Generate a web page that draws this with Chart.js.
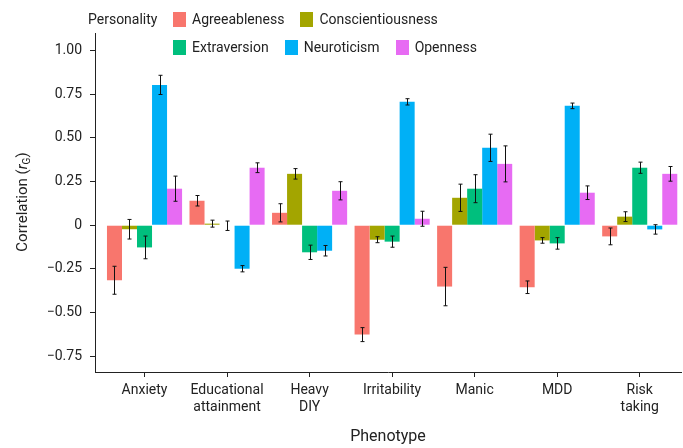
<!DOCTYPE html>
<html>
<head>
<meta charset="utf-8">
<script src="https://cdn.jsdelivr.net/npm/chart.js@4.4.1/dist/chart.umd.min.js"></script>
<style>
    body { margin: 0; background: #fff; font-family: Roboto, sans-serif; color: #222; }
    #wrap { position: relative; width: 683px; height: 448px; }
    #legendTitle { position: absolute; left: 88px; top: 10px; font-size: 14px; line-height: 18px; }
    .legendRow { position: absolute; left: 173px; display: flex; gap: 16px; }
    .legendItem { display: flex; align-items: center; font-size: 14px; line-height: 18px; }
    .legendBox { width: 13px; height: 15px; margin-right: 6px; }
</style>
</head>
<body>
<div id="wrap">
    <canvas id="chart" width="683" height="448"></canvas>
    <div id="legendTitle">Personality</div>
    <div class="legendRow" id="row1" style="top:10px"></div>
    <div class="legendRow" id="row2" style="top:38px"></div>
</div>
<script>
const phenotypes = ['Anxiety', 'Educational attainment', 'Heavy DIY', 'Irritability', 'Manic', 'MDD', 'Risk taking'];
const tickLabels = [['Anxiety'], ['Educational', 'attainment'], ['Heavy', 'DIY'], ['Irritability'], ['Manic'], ['MDD'], ['Risk', 'taking']];
const traits = ['Agreeableness', 'Conscientiousness', 'Extraversion', 'Neuroticism', 'Openness'];
const traitColors = ['#F8766D', '#A3A500', '#00BF7D', '#00B0F6', '#E76BF3'];

const agreeableness = [-0.315, 0.14, 0.071, -0.626, -0.351, -0.355, -0.064];
const agreeablenessErr = [0.08, 0.03, 0.052, 0.04, 0.11, 0.036, 0.048];
const conscientiousness = [-0.023, 0.009, 0.294, -0.083, 0.157, -0.087, 0.049];
const conscientiousnessErr = [0.056, 0.02, 0.03, 0.017, 0.078, 0.016, 0.028];
const extraversion = [-0.127, -0.003, -0.155, -0.094, 0.209, -0.104, 0.329];
const extraversionErr = [0.065, 0.027, 0.041, 0.032, 0.08, 0.033, 0.032];
const neuroticism = [0.803, -0.249, -0.146, 0.706, 0.443, 0.683, -0.024];
const neuroticismErr = [0.055, 0.018, 0.03, 0.018, 0.078, 0.016, 0.027];
const openness = [0.209, 0.329, 0.197, 0.037, 0.351, 0.186, 0.294];
const opennessErr = [0.072, 0.028, 0.052, 0.043, 0.103, 0.039, 0.042];

const yTicks = [-0.75, -0.5, -0.25, 0, 0.25, 0.5, 0.75, 1];

const seriesValues = [agreeableness, conscientiousness, extraversion, neuroticism, openness];
const seriesErrors = [agreeablenessErr, conscientiousnessErr, extraversionErr, neuroticismErr, opennessErr];

const datasets = traits.map((t, k) => ({
    label: t,
    data: seriesValues[k].map((v, i) => ({ x: i, y: v })),
    errors: seriesErrors[k],
    backgroundColor: traitColors[k],
    borderWidth: 0,
    categoryPercentage: 0.91,
    barPercentage: 1
}));

// legend laid out like the ggplot one: 2 items on top row, 3 below
const rows = [document.getElementById('row1'), document.getElementById('row2')];
traits.forEach((t, k) => {
    const item = document.createElement('div');
    item.className = 'legendItem';
    const box = document.createElement('span');
    box.className = 'legendBox';
    box.style.background = traitColors[k];
    item.appendChild(box);
    item.appendChild(document.createTextNode(t));
    rows[k < 2 ? 0 : 1].appendChild(item);
});

const errorBars = {
    id: 'errorBars',
    afterDatasetsDraw(chart) {
        const ctx = chart.ctx;
        const yScale = chart.scales.y;
        ctx.save();
        ctx.strokeStyle = '#111';
        ctx.lineWidth = 1;
        chart.data.datasets.forEach((ds, k) => {
            const meta = chart.getDatasetMeta(k);
            meta.data.forEach((bar, i) => {
                const v = ds.data[i].y;
                const e = ds.errors[i];
                const x = Math.round(bar.x) + 0.5;
                const y1 = yScale.getPixelForValue(v + e);
                const y2 = yScale.getPixelForValue(v - e);
                ctx.beginPath();
                ctx.moveTo(x, y1); ctx.lineTo(x, y2);
                ctx.moveTo(x - 2, y1); ctx.lineTo(x + 2, y1);
                ctx.moveTo(x - 2, y2); ctx.lineTo(x + 2, y2);
                ctx.stroke();
            });
        });
        ctx.restore();
    }
};

// y title has an italic r with subscript G, so draw it by hand
const yTitle = {
    id: 'yTitle',
    afterDraw(chart) {
        const ctx = chart.ctx;
        const parts = [
            { t: 'Correlation (', f: '15px Roboto', dy: 0 },
            { t: 'r', f: 'italic 15px Roboto', dy: 0 },
            { t: 'G', f: '10px Roboto', dy: 4 },
            { t: ')', f: '15px Roboto', dy: 0 }
        ];
        let total = 0;
        parts.forEach(p => { ctx.font = p.f; p.w = ctx.measureText(p.t).width; total += p.w; });
        ctx.save();
        ctx.translate(23, 202);
        ctx.rotate(-Math.PI / 2);
        ctx.fillStyle = '#222';
        ctx.textBaseline = 'middle';
        let x = -total / 2;
        parts.forEach(p => {
            ctx.font = p.f;
            ctx.fillText(p.t, x, p.dy);
            x += p.w;
        });
        ctx.restore();
    }
};

new Chart(document.getElementById('chart'), {
    type: 'bar',
    data: { datasets: datasets },
    options: {
        responsive: false,
        animation: false,
        devicePixelRatio: 1,
        layout: { padding: { top: 33, right: 2, left: 0, bottom: 0 } },
        plugins: {
            legend: { display: false },
            tooltip: { enabled: false }
        },
        scales: {
            x: {
                type: 'linear',
                min: -0.6,
                max: 6.5,
                offset: false,
                afterFit(scale) { scale.height = 76; },
                afterBuildTicks(scale) { scale.ticks = phenotypes.map((p, i) => ({ value: i })); },
                grid: { offset: false, drawOnChartArea: false, drawTicks: true, tickLength: 5, color: '#222' },
                border: { display: true, color: '#222', width: 1 },
                ticks: {
                    autoSkip: false,
                    maxRotation: 0,
                    padding: 5,
                    color: '#222',
                    font: { family: 'Roboto', size: 14, lineHeight: 1.22 },
                    callback: (v) => tickLabels[v]
                },
                title: {
                    display: true,
                    text: 'Phenotype',
                    color: '#222',
                    font: { family: 'Roboto', size: 16 },
                    padding: { top: 0, bottom: 1 }
                }
            },
            y: {
                min: -0.84,
                max: 1.1,
                afterFit(scale) { scale.width = 95; },
                afterBuildTicks(scale) { scale.ticks = yTicks.map(v => ({ value: v })); },
                grid: { drawOnChartArea: false, drawTicks: true, tickLength: 5, color: '#222' },
                border: { display: true, color: '#222', width: 1 },
                ticks: {
                    padding: 8,
                    color: '#222',
                    font: { family: 'Roboto', size: 14 },
                    callback: (v) => v === 0 ? '0' : (v < 0 ? '\u2212' : '') + Math.abs(v).toFixed(2)
                }
            }
        }
    },
    plugins: [errorBars, yTitle]
});
</script>
</body>
</html>
